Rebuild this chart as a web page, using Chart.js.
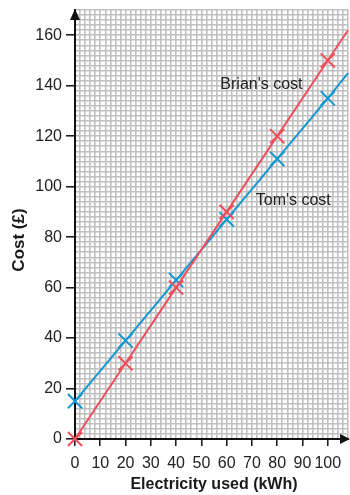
<!DOCTYPE html>
<html>
<head>
<meta charset="utf-8">
<script src="https://cdn.jsdelivr.net/npm/chart.js@4/dist/chart.umd.min.js"></script>
<style>
  html, body { margin: 0; padding: 0; background: #fff; }
  canvas { display: block; }
</style>
</head>
<body>
<canvas id="c" width="350" height="495"></canvas>
<script>
// Electricity used (kWh) at the plotted crosses
const kwh = [0, 20, 40, 60, 80, 100];
// Cost in pounds at each of those readings
const brianCost = [0, 30, 60, 90, 120, 150];
const tomCost = [15, 39, 63, 87, 111, 135];
// Where each line leaves the grid on the right-hand edge
const edgeKwh = 108;
const brianEdge = 162;
const tomEdge = 145;
// Axis tick labels
const xTickLabels = [0, 10, 20, 30, 40, 50, 60, 70, 80, 90, 100];
const yTickLabels = [0, 20, 40, 60, 80, 100, 120, 140, 160];
// Line labels
const seriesNames = ["Brian's cost", "Tom's cost"];
const xTitle = 'Electricity used (kWh)';
const yTitle = 'Cost (£)';

const RED = '#ef4f5c';
const BLUE = '#1597cf';
const FONT = "'Liberation Sans', Arial, sans-serif";

function series(xs, ys, ex, ey) {
  const pts = xs.map((x, i) => ({ x: x, y: ys[i] }));
  pts.push({ x: ex, y: ey });
  return pts;
}
const markerRadius = kwh.map(() => 10).concat([0]);

// Arrowheads, axis titles and line labels
const extras = {
  id: 'extras',
  afterDatasetsDraw(chart) {
    const { ctx, chartArea: a, scales: { x, y } } = chart;
    ctx.save();
    ctx.fillStyle = '#111';
    // arrow on y axis
    ctx.beginPath();
    ctx.moveTo(a.left, a.top - 1);
    ctx.lineTo(a.left - 5, a.top + 10);
    ctx.lineTo(a.left + 5, a.top + 10);
    ctx.closePath();
    ctx.fill();
    // arrow on x axis
    ctx.beginPath();
    ctx.moveTo(350, a.bottom);
    ctx.lineTo(340, a.bottom - 5);
    ctx.lineTo(340, a.bottom + 5);
    ctx.closePath();
    ctx.fill();

    // line labels
    ctx.fillStyle = '#222';
    ctx.font = '16px ' + FONT;
    ctx.textAlign = 'left';
    ctx.textBaseline = 'middle';
    ctx.fillText(seriesNames[0], x.getPixelForValue(57.5), y.getPixelForValue(140.5));
    ctx.fillText(seriesNames[1], x.getPixelForValue(71.5), y.getPixelForValue(94.5));

    // axis titles
    ctx.fillStyle = '#1a1a1a';
    ctx.font = 'bold 16px ' + FONT;
    ctx.textAlign = 'center';
    ctx.fillText(xTitle, 214, 485);
    ctx.save();
    ctx.translate(19, 240);
    ctx.rotate(-Math.PI / 2);
    ctx.font = 'bold 17px ' + FONT;
    ctx.fillText(yTitle, 0, 0);
    ctx.restore();
    ctx.restore();
  }
};

const gridColor = '#c0c0c0';

new Chart(document.getElementById('c'), {
  type: 'line',
  data: {
    datasets: [
      {
        label: seriesNames[0],
        data: series(kwh, brianCost, edgeKwh, brianEdge),
        borderColor: RED,
        backgroundColor: RED,
        borderWidth: 2,
        pointStyle: 'crossRot',
        pointRadius: markerRadius,
        pointBorderWidth: 2,
        pointBorderColor: RED,
        tension: 0,
        fill: false,
        clip: false
      },
      {
        label: seriesNames[1],
        data: series(kwh, tomCost, edgeKwh, tomEdge),
        borderColor: BLUE,
        backgroundColor: BLUE,
        borderWidth: 2,
        pointStyle: 'crossRot',
        pointRadius: markerRadius,
        pointBorderWidth: 2,
        pointBorderColor: BLUE,
        tension: 0,
        fill: false,
        clip: false
      }
    ]
  },
  options: {
    responsive: false,
    animation: false,
    events: [],
    layout: { autoPadding: false, padding: { top: 10, right: 2, left: 0, bottom: 0 } },
    plugins: { legend: { display: false }, tooltip: { enabled: false } },
    scales: {
      x: {
        type: 'linear',
        min: 0,
        max: 108,
        afterFit(s) { s.height = 56; s.paddingLeft = 0; s.paddingRight = 0; },
        ticks: {
          stepSize: 2,
          autoSkip: false,
          maxRotation: 0,
          padding: 8,
          color: '#222',
          font: { family: FONT, size: 16 },
          callback: v => (xTickLabels.includes(v) ? String(v) : '')
        },
        grid: {
          color: gridColor,
          lineWidth: 1.6,
          drawTicks: true,
          tickLength: 7,
          tickWidth: 1.5,
          tickColor: c => (c.tick && xTickLabels.includes(c.tick.value) ? '#111' : 'rgba(0,0,0,0)')
        },
        border: { color: '#111', width: 2 }
      },
      y: {
        type: 'linear',
        min: 0,
        max: 170,
        afterFit(s) { s.width = 75; s.paddingTop = 0; s.paddingBottom = 0; },
        ticks: {
          stepSize: 2,
          autoSkip: false,
          padding: 4,
          color: '#222',
          font: { family: FONT, size: 16 },
          callback: v => (yTickLabels.includes(v) ? String(v) : '')
        },
        grid: {
          color: gridColor,
          lineWidth: 1.6,
          drawTicks: true,
          tickLength: 9,
          tickWidth: 1.5,
          tickColor: c => (c.tick && yTickLabels.includes(c.tick.value) ? '#111' : 'rgba(0,0,0,0)')
        },
        border: { color: '#111', width: 2 }
      }
    }
  },
  plugins: [extras]
});
</script>
</body>
</html>
